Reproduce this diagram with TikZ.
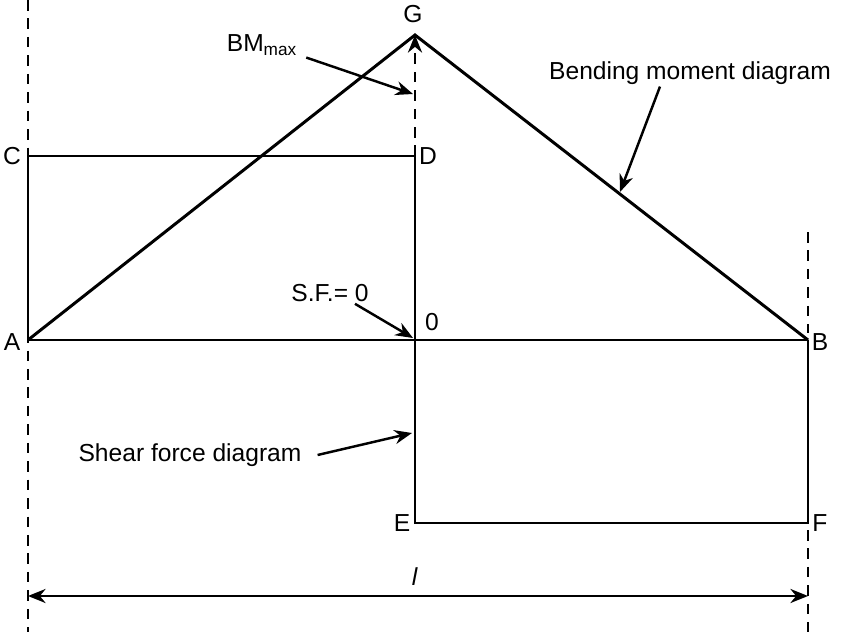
\documentclass[tikz,border=0pt]{standalone}
\usepackage{fontspec}
\setmainfont{Liberation Sans}
\usetikzlibrary{arrows.meta, positioning}

\begin{document}
\begin{tikzpicture}[x=0.02cm, y=-0.02cm, >=Stealth,
  member/.style={line width=1.7pt, line join=miter},
  guide/.style={line width=1.6pt, dash pattern=on 6pt off 4.5pt},
  pointer/.style={line width=1.4pt, -{Stealth[length=10pt,width=8pt]}},
  lbl/.style={font=\fontsize{14}{16}\selectfont, inner sep=1pt}
]
  \useasboundingbox (0,0) rectangle (850,632);
  % key points of the beam
  \coordinate (A) at (28,340);
  \coordinate (O) at (415,340);
  \coordinate (B) at (808,340);
  \coordinate (C) at (28,156);
  \coordinate (D) at (415,156);
  \coordinate (G) at (415,35);
  \coordinate (E) at (415,523);
  \coordinate (F) at (808,523);
  % guide lines
  \coordinate (topA) at (28,0);
  \coordinate (botA) at (28,632);
  \coordinate (topB) at (808,232);
  \coordinate (endB) at (808,333);
  \coordinate (belF) at (808,530);
  \coordinate (botB) at (808,632);
  \coordinate (dimA) at (28,596);
  \coordinate (dimB) at (808,596);
  \draw[guide] (topA) -- (botA);
  \draw[guide] (topB) -- (endB);
  \draw[guide] (belF) -- (botB);
  \draw[guide, -{Stealth[length=10pt,width=8pt]}] (D) -- (G);
  % shear force diagram
  \draw[member] (A) -- (C) -- (D) -- (O) -- (E) -- (F) -- (B);
  \draw[member] (A) -- (B);
  % bending moment diagram
  \draw[member] (A) -- (G) -- (B);
  % span
  \draw[line width=1.4pt, {Stealth[length=10pt,width=8pt]}-{Stealth[length=10pt,width=8pt]}] (dimA) -- (dimB);
  \node[lbl] (span) at (415,577) {\textit{l}};
  % point labels
  \node[lbl] (lA) at (12,342) {A};
  \node[lbl] (lB) at (820,342) {B};
  \node[lbl] (lC) at (12,156) {C};
  \node[lbl] (lD) at (428,156) {D};
  \node[lbl] (lG) at (413,14) {G};
  \node[lbl] (lO) at (432,322) {0};
  \node[lbl] (lE) at (402,523) {E};
  \node[lbl] (lF) at (820,523) {F};
  % callouts
  \coordinate (bmtip) at (413,94);
  \coordinate (bmdtip) at (620,192);
  \coordinate (sftip) at (413,338);
  \coordinate (sfdtip) at (412,433);
  \node[lbl] (bmmax) at (262,45) {BM\textsubscript{max}};
  \node[lbl] (bmd) at (690,73) {Bending moment diagram};
  \node[lbl] (sf) at (330,293) {S.F.= 0};
  \node[lbl] (sfd) at (190,455) {Shear force diagram};
  \draw[pointer] ([xshift=4pt]bmmax.south east) -- (bmtip);
  \draw[pointer] ([xshift=-0.6cm]bmd.south) -- (bmdtip);
  \draw[pointer] ([xshift=0.5cm]sf.south) -- (sftip);
  \draw[pointer] ([xshift=8pt]sfd.east) -- (sfdtip);
\end{tikzpicture}
\end{document}
